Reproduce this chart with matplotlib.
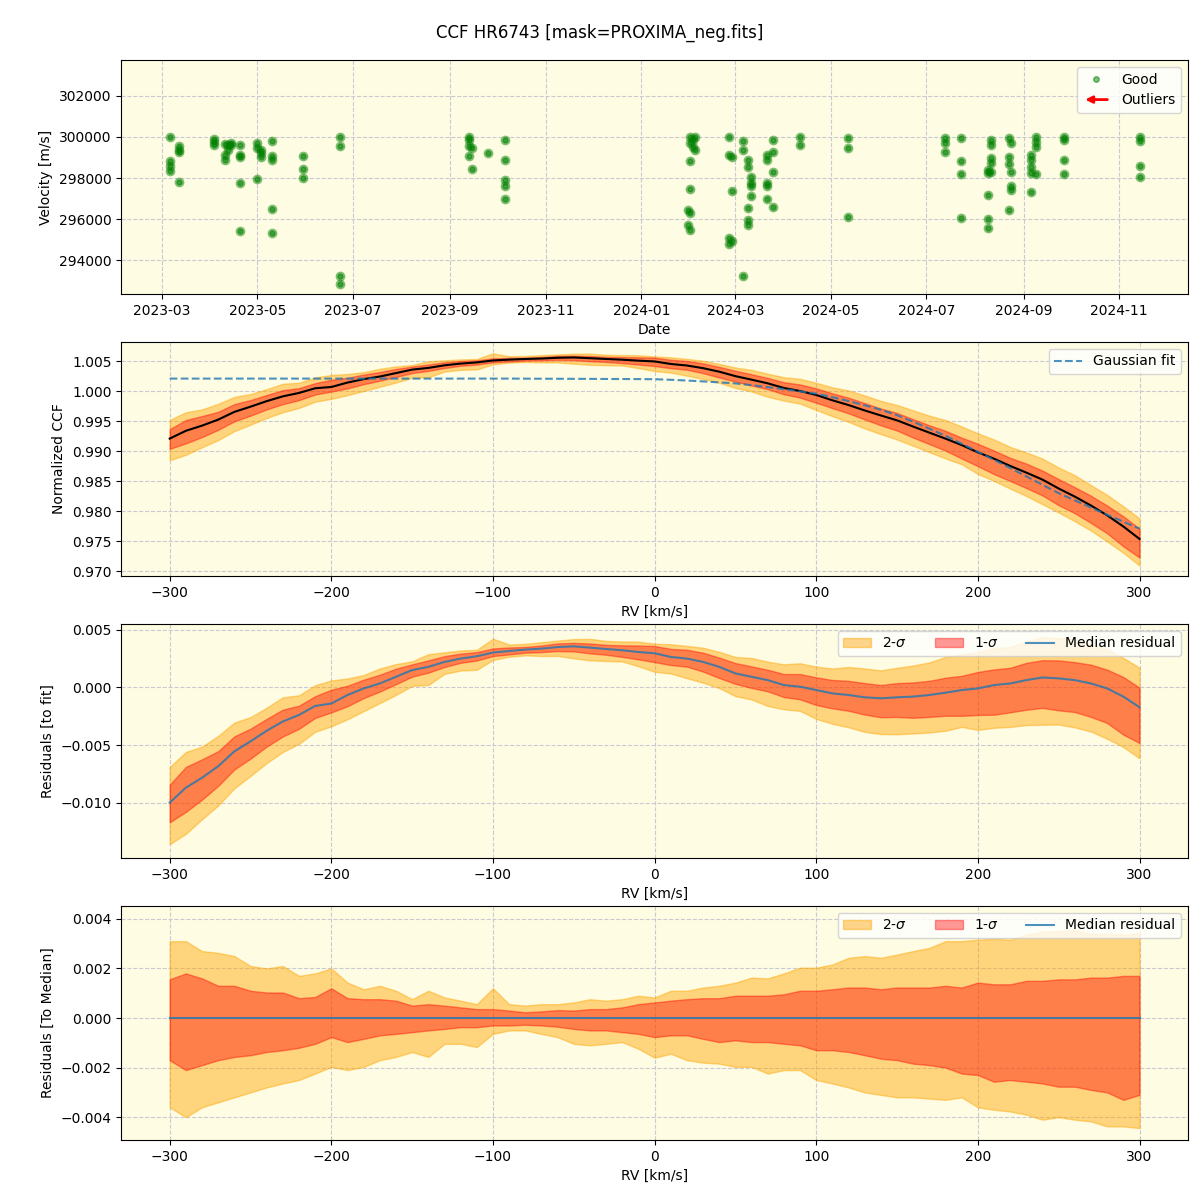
import numpy as np
import pandas as pd
import matplotlib.pyplot as plt
import matplotlib.dates as mdates
from matplotlib.lines import Line2D
from matplotlib.patches import FancyArrowPatch
from matplotlib.legend_handler import HandlerBase

# --- RV time series (good points), grouped by night ---
epochs = ['2023-03-06', '2023-03-12', '2023-04-03', '2023-04-10', '2023-04-12', '2023-04-14',
          '2023-04-20', '2023-05-01', '2023-05-03', '2023-05-10', '2023-05-30', '2023-06-23',
          '2023-09-13', '2023-09-15', '2023-09-25', '2023-10-06', '2024-01-31', '2024-02-01',
          '2024-02-03', '2024-02-04', '2024-02-26', '2024-02-28', '2024-03-06', '2024-03-09',
          '2024-03-11', '2024-03-21', '2024-03-25', '2024-04-11', '2024-05-12', '2024-07-13',
          '2024-07-23', '2024-08-09', '2024-08-11', '2024-08-23', '2024-08-24', '2024-09-06',
          '2024-09-09', '2024-09-27', '2024-11-14']
rv_per_epoch = [
    [300000, 298834, 298560, 298350],
    [299563, 299369, 299288, 297798],
    [299887, 299773, 299611],
    [299644, 299126, 298883],
    [299611, 299369],
    [299692, 299600],
    [299611, 299126, 299045, 297750, 295418],
    [299692, 299450, 297960],
    [299369, 299207, 299045],
    [299806, 299077, 298883, 296503, 295337],
    [299061, 298446, 297992],
    [300000, 299547, 293249, 292844],
    [300000, 299854, 299563, 299061],
    [299450, 298446],
    [299207],
    [299854, 298867, 297912, 297620, 296972],
    [296454, 295726],
    [300000, 299700, 298834, 297458, 296292, 295483],
    [299850, 299500],
    [300000, 299369],
    [300000, 299126, 295078, 294787],
    [299045, 297377, 294916],
    [299806, 299369, 293249],
    [298883, 298559, 296535, 295969, 295726],
    [298073, 297750, 297620, 297102],
    [299126, 298883, 297750, 297620, 296972],
    [299854, 299288, 298300, 296600],
    [300000, 299611],
    [299935, 299482, 296098],
    [299935, 299692, 299288],
    [299968, 298834, 298187, 296050],
    [298397, 298235, 297183, 296017, 295564],
    [299854, 299611, 298964, 298721, 298300],
    [299968, 299045, 298672, 296454],
    [299692, 298284, 297620, 297426],
    [299126, 298883, 298559, 298235, 297312],
    [300000, 299773, 299498, 298187],
    [300000, 299854, 298883, 298187],
    [300000, 299806, 298591, 298073],
]

# --- CCF profile, sampled every 10 km/s from -300 to 300 ---
rv_grid = np.arange(-300, 301, 10)

gauss_fit = [1.00210, 1.00210, 1.00210, 1.00210, 1.00210, 1.00210, 1.00210, 1.00210, 1.00210, 1.00210,
             1.00210, 1.00210, 1.00210, 1.00210, 1.00210, 1.00210, 1.00210, 1.00210, 1.00210, 1.00210,
             1.00210, 1.00210, 1.00209, 1.00208, 1.00207, 1.00206, 1.00205, 1.00204, 1.00203, 1.00202,
             1.00200, 1.00190, 1.00178, 1.00163, 1.00147, 1.00130, 1.00100, 1.00068, 1.00033, 0.99997,
             0.99960, 0.99900, 0.99835, 0.99765, 0.99690, 0.99600, 0.99490, 0.99375, 0.99255, 0.99125,
             0.98990, 0.98855, 0.98720, 0.98580, 0.98440, 0.98300, 0.98180, 0.98060, 0.97940, 0.97825,
             0.97710]

median_resid = [-0.01000, -0.00870, -0.00784, -0.00684, -0.00555, -0.00468, -0.00376, -0.00296, -0.00239, -0.00161,
                -0.00140, -0.00066, -0.00009, 0.00034, 0.00092, 0.00150, 0.00178, 0.00221, 0.00250, 0.00270,
                0.00302, 0.00316, 0.00328, 0.00336, 0.00350, 0.00356, 0.00345, 0.00333, 0.00322, 0.00307,
                0.00296, 0.00264, 0.00250, 0.00221, 0.00178, 0.00121, 0.00092, 0.00063, 0.00020, 0.00006,
                -0.00023, -0.00052, -0.00066, -0.00086, -0.00095, -0.00086, -0.00080, -0.00066, -0.00046, -0.00023,
                -0.00009, 0.00020, 0.00034, 0.00063, 0.00086, 0.00078, 0.00063, 0.00034, -0.00009, -0.00080,
                -0.00172]

# spread of the individual CCFs around the median
hi2 = [0.00310, 0.00310, 0.00270, 0.00263, 0.00250, 0.00210, 0.00200, 0.00210, 0.00170, 0.00180,
       0.00200, 0.00143, 0.00116, 0.00130, 0.00110, 0.00076, 0.00110, 0.00083, 0.00070, 0.00056,
       0.00120, 0.00056, 0.00050, 0.00056, 0.00056, 0.00063, 0.00076, 0.00070, 0.00076, 0.00090,
       0.00083, 0.00110, 0.00110, 0.00123, 0.00130, 0.00143, 0.00163, 0.00160, 0.00180, 0.00203,
       0.00203, 0.00216, 0.00243, 0.00250, 0.00243, 0.00256, 0.00270, 0.00283, 0.00310, 0.00310,
       0.00316, 0.00320, 0.00316, 0.00336, 0.00350, 0.00350, 0.00356, 0.00340, 0.00340, 0.00336,
       0.00343]
hi1 = [0.00156, 0.00180, 0.00160, 0.00130, 0.00130, 0.00110, 0.00103, 0.00103, 0.00080, 0.00085,
       0.00120, 0.00080, 0.00076, 0.00076, 0.00070, 0.00050, 0.00056, 0.00050, 0.00043, 0.00036,
       0.00036, 0.00030, 0.00023, 0.00027, 0.00032, 0.00030, 0.00036, 0.00036, 0.00043, 0.00056,
       0.00063, 0.00070, 0.00076, 0.00080, 0.00080, 0.00090, 0.00090, 0.00090, 0.00096, 0.00110,
       0.00110, 0.00116, 0.00123, 0.00123, 0.00116, 0.00123, 0.00123, 0.00123, 0.00130, 0.00123,
       0.00143, 0.00136, 0.00136, 0.00150, 0.00150, 0.00156, 0.00156, 0.00163, 0.00163, 0.00170,
       0.00170]
lo1 = [-0.00170, -0.00210, -0.00190, -0.00170, -0.00157, -0.00150, -0.00137, -0.00130, -0.00120, -0.00104,
       -0.00077, -0.00097, -0.00084, -0.00070, -0.00064, -0.00057, -0.00050, -0.00044, -0.00037, -0.00037,
       -0.00030, -0.00030, -0.00027, -0.00030, -0.00035, -0.00044, -0.00050, -0.00050, -0.00057, -0.00064,
       -0.00077, -0.00070, -0.00070, -0.00084, -0.00097, -0.00090, -0.00097, -0.00097, -0.00104, -0.00110,
       -0.00130, -0.00130, -0.00137, -0.00150, -0.00164, -0.00170, -0.00184, -0.00190, -0.00200, -0.00224,
       -0.00230, -0.00257, -0.00250, -0.00257, -0.00264, -0.00277, -0.00277, -0.00290, -0.00300, -0.00330,
       -0.00310]
lo2 = [-0.00360, -0.00400, -0.00360, -0.00340, -0.00320, -0.00300, -0.00280, -0.00264, -0.00250, -0.00224,
       -0.00197, -0.00210, -0.00197, -0.00170, -0.00157, -0.00137, -0.00157, -0.00104, -0.00104, -0.00117,
       -0.00064, -0.00050, -0.00050, -0.00064, -0.00077, -0.00104, -0.00110, -0.00104, -0.00097, -0.00124,
       -0.00160, -0.00144, -0.00170, -0.00180, -0.00184, -0.00197, -0.00197, -0.00224, -0.00210, -0.00210,
       -0.00250, -0.00264, -0.00280, -0.00300, -0.00310, -0.00320, -0.00320, -0.00325, -0.00330, -0.00320,
       -0.00360, -0.00370, -0.00377, -0.00390, -0.00410, -0.00400, -0.00410, -0.00417, -0.00437, -0.00437,
       -0.00444]

# derived curves
fit = np.array(gauss_fit)
res = np.array(median_resid)
ccf_med = fit + res
hi2, hi1, lo1, lo2 = map(np.array, (hi2, hi1, lo1, lo2))

dates = []
rvs = []
for d, vals in zip(epochs, rv_per_epoch):
    for v in vals:
        dates.append(pd.Timestamp(d))
        rvs.append(v)


class ArrowHandler(HandlerBase):
    # red left-pointing arrow for the "Outliers" legend entry
    def create_artists(self, legend, orig_handle, xdescent, ydescent, width, height, fontsize, trans):
        y = height / 2 - ydescent
        arr = FancyArrowPatch((width - xdescent, y), (-xdescent, y), arrowstyle='-|>',
                              mutation_scale=10, color='red', lw=2, transform=trans)
        return [arr]


bg = '#fefce2'
gridc = '#c9c9d2'

fig, axes = plt.subplots(4, 1, figsize=(12, 12), dpi=100)
fig.subplots_adjust(left=0.101, right=0.99, top=0.95, bottom=0.05, hspace=0.205)
fig.suptitle('CCF HR6743 [mask=PROXIMA_neg.fits]', fontsize=12, y=0.98)

for ax in axes:
    ax.set_facecolor(bg)
    ax.grid(True, linestyle='--', color=gridc, linewidth=0.8)
    ax.set_axisbelow(True)

# panel 1: RV time series
ax = axes[0]
ax.plot(dates, rvs, 'o', color='green', alpha=0.5, ms=7, mew=0)
ax.scatter(dates, rvs, s=12, color='green', alpha=0.5, zorder=3)
ax.xaxis.set_major_locator(mdates.MonthLocator(bymonth=[1, 3, 5, 7, 9, 11]))
ax.xaxis.set_major_formatter(mdates.DateFormatter('%Y-%m'))
ax.ticklabel_format(axis='y', useOffset=False, style='plain')
ax.set_ylim(292354, 303743)
ax.set_xlabel('Date')
ax.set_ylabel('Velocity [m/s]')
good_h = Line2D([], [], marker='o', ls='None', color='green', alpha=0.5, ms=4)
out_h = Line2D([], [], color='red')
ax.legend([good_h, out_h], ['Good', 'Outliers'], loc='upper right',
          handler_map={out_h: ArrowHandler()})

# panel 2: normalized CCF
ax = axes[1]
ax.fill_between(rv_grid, ccf_med + lo2, ccf_med + hi2, color='orange', alpha=0.45)
ax.fill_between(rv_grid, ccf_med + lo1, ccf_med + hi1, color='red', alpha=0.4)
ax.plot(rv_grid, ccf_med, color='black', lw=1.5)
ax.plot(rv_grid, fit, '--', color='tab:blue', alpha=0.8, lw=1.5, label='Gaussian fit')
ax.set_ylim(0.9692, 1.0082)
ax.set_xlabel('RV [km/s]')
ax.set_ylabel('Normalized CCF')
ax.legend(loc='upper right')

# panel 3: residuals to the fit
ax = axes[2]
ax.fill_between(rv_grid, res + lo2, res + hi2, color='orange', alpha=0.45, label='2-$\\sigma$')
ax.fill_between(rv_grid, res + lo1, res + hi1, color='red', alpha=0.4, label='1-$\\sigma$')
ax.plot(rv_grid, res, color='tab:blue', alpha=0.8, lw=1.5, label='Median residual')
ax.set_ylim(-0.0148, 0.0055)
ax.set_xlabel('RV [km/s]')
ax.set_ylabel('Residuals [to fit]')
ax.legend(loc='upper right', ncol=3)

# panel 4: residuals to the median
ax = axes[3]
ax.fill_between(rv_grid, lo2, hi2, color='orange', alpha=0.45, label='2-$\\sigma$')
ax.fill_between(rv_grid, lo1, hi1, color='red', alpha=0.4, label='1-$\\sigma$')
ax.plot(rv_grid, np.zeros_like(rv_grid, dtype=float), color='tab:blue', alpha=0.8, lw=1.5,
        label='Median residual')
ax.set_ylim(-0.00492, 0.00452)
ax.set_xlabel('RV [km/s]')
ax.set_ylabel('Residuals [To Median]')
ax.legend(loc='upper right', ncol=3)

for ax in axes[1:]:
    ax.set_xlim(-330, 330)

fig.savefig('out.png', dpi=100)
